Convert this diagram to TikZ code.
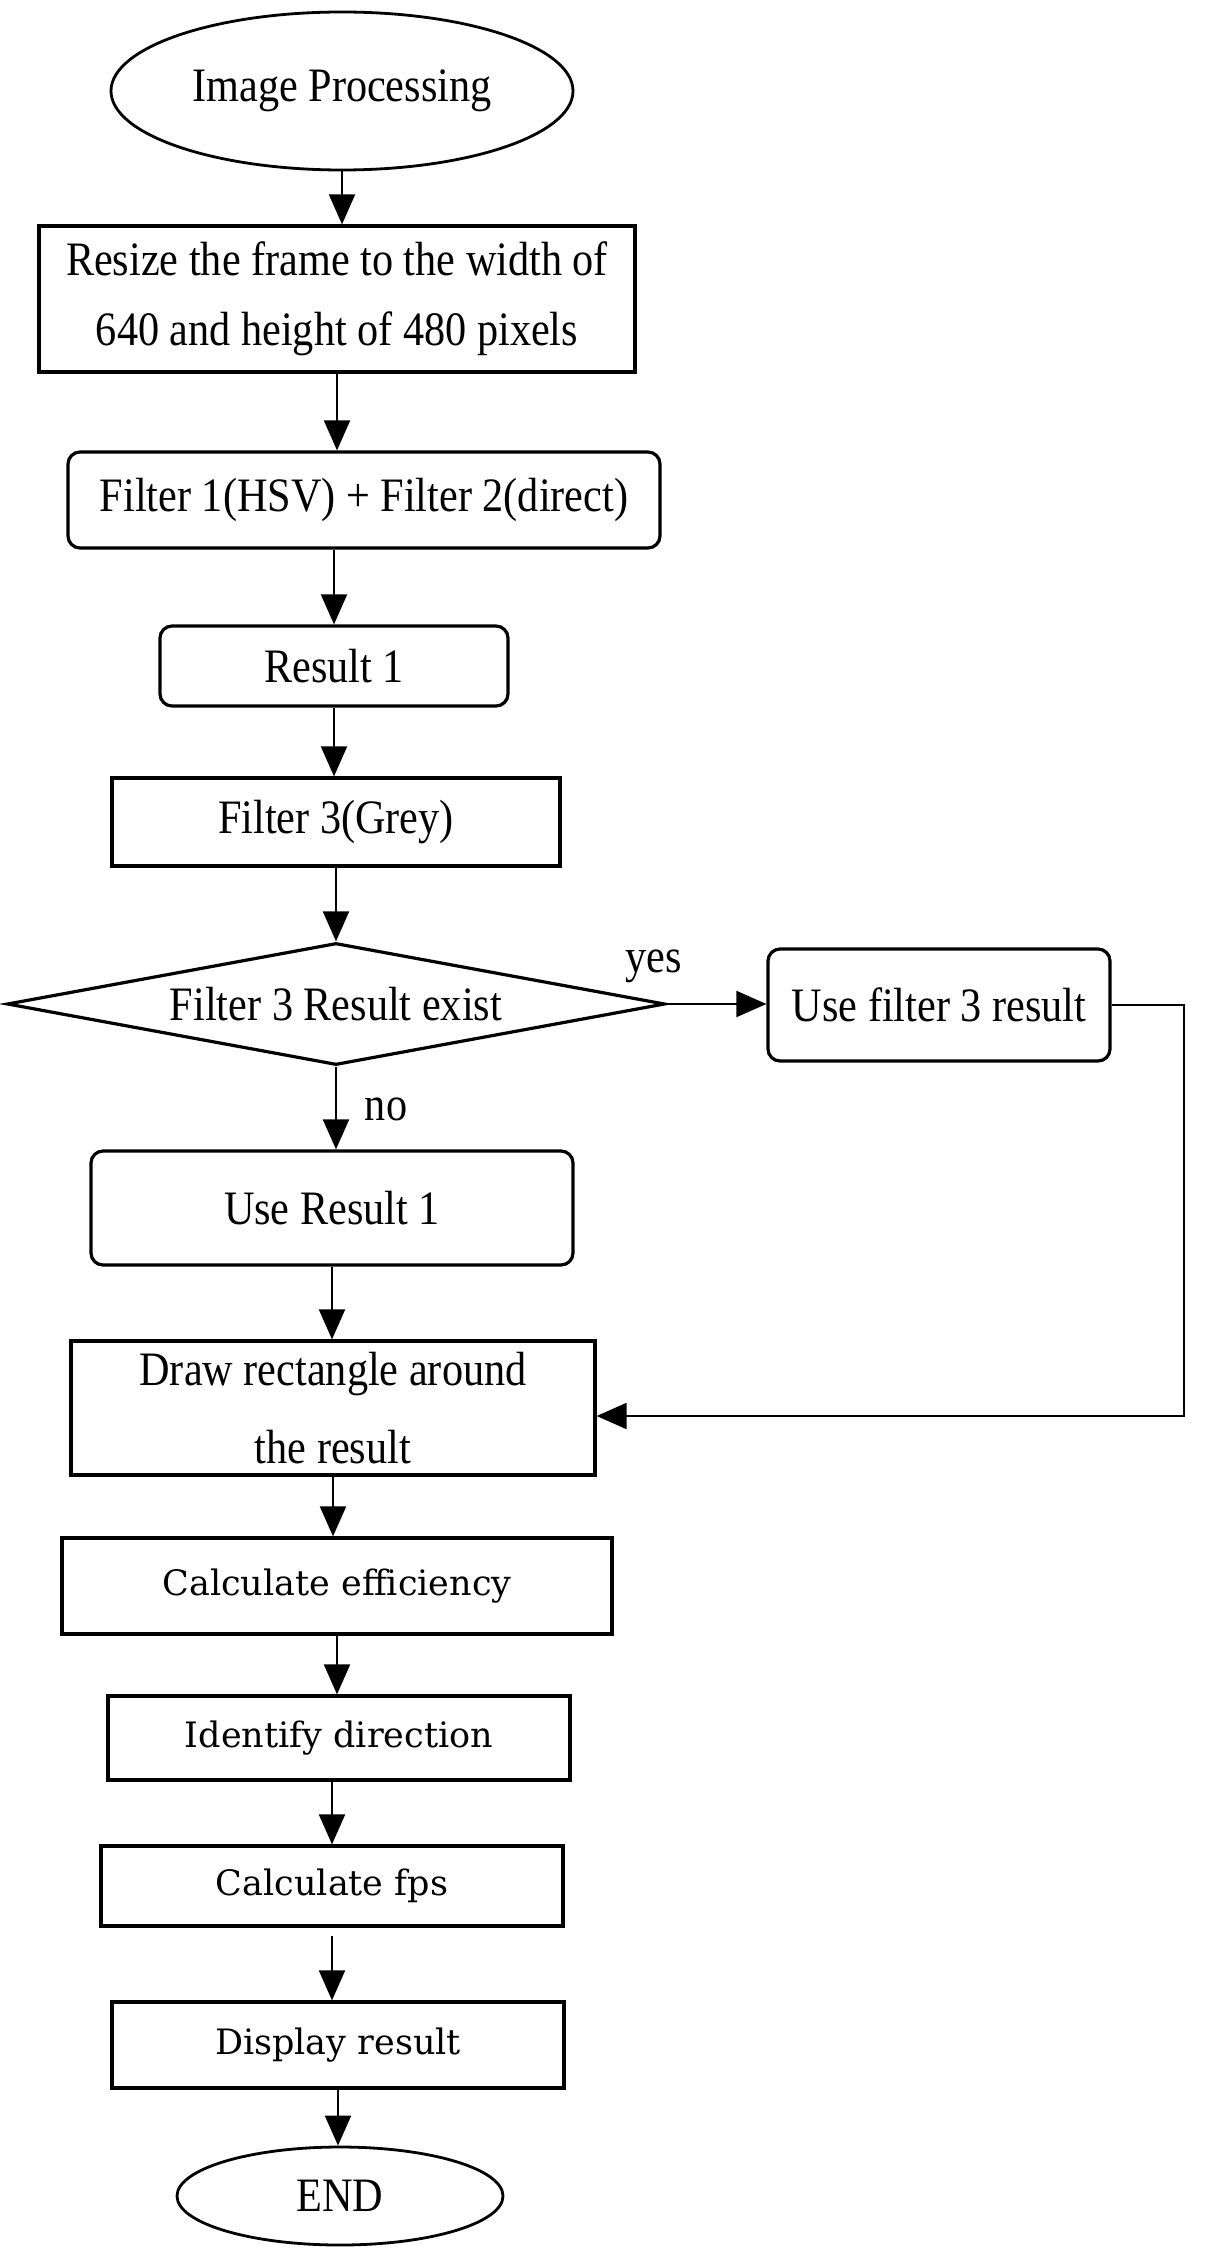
\documentclass[tikz,border=0pt]{standalone}
\usepackage{fontspec}
\setmainfont[FakeStretch=0.88]{Liberation Serif}
\newfontfamily\boxfont{DejaVu Serif}
\usetikzlibrary{shapes.geometric,arrows.meta}

\begin{document}
\begin{tikzpicture}[x=0.5pt, y=-0.5pt,
        every node/.style={font=\fontsize{24}{35}\selectfont, inner sep=0pt, align=center},
        box/.style={draw, line width=1.6pt, rectangle},
        roundbox/.style={box, rounded corners=6pt},
        oval/.style={draw, line width=1.4pt, ellipse},
        late/.style={box, font=\boxfont\fontsize{17.5}{20}\selectfont},
        flow/.style={line width=1pt, -{Triangle[width=13pt, length=15pt]}}]
    \useasboundingbox (0,0) rectangle (1204,2257);

    % Main column
    \node[oval, minimum width=231pt, minimum height=79pt] (start) at (342,91) {Image Processing};
    \node[box, minimum width=298pt, minimum height=73pt] (resize) at (337,299) {Resize the frame to the width of\\640 and height of 480 pixels};
    \node[roundbox, minimum width=296pt, minimum height=48pt] (filt12) at (364,500) {Filter 1(HSV) + Filter 2(direct)};
    \node[roundbox, minimum width=174pt, minimum height=40pt] (res1) at (334,666) {Result 1};
    \node[box, minimum width=224pt, minimum height=44pt] (filt3) at (336,822) {Filter 3(Grey)};
    \node[draw, diamond, aspect=5.3, line width=1.6pt, minimum width=329pt, minimum height=61pt] (cond) at (336,1004) {Filter 3 Result exist};
    \node[roundbox, minimum width=171pt, minimum height=56pt] (usef3) at (939,1005) {Use filter 3 result};
    \node[roundbox, minimum width=241pt, minimum height=57pt] (useres1) at (332,1208) {Use Result 1};
    \node[box, minimum width=262pt, minimum height=67pt] (drawrect) at (333,1408) {Draw rectangle around\\[4pt]the result};
    \node[late, minimum width=275pt, minimum height=48pt] (calceff) at (337,1586) {Calculate efficiency};
    \node[late, minimum width=231pt, minimum height=42pt] (ident) at (339,1738) {Identify direction};
    \node[late, minimum width=231pt, minimum height=40pt] (fps) at (332,1886) {Calculate fps};
    \node[late, minimum width=226pt, minimum height=43pt] (disp) at (338,2045) {Display result};
    \node[oval, minimum width=163pt, minimum height=49pt] (stop) at (340,2196) {END};

    % Branch labels
    \node (yes) at (654,966) {yes};
    \node (no) at (386,1109) {no};

    % Connectors
    \draw[flow] (start.south) -- (start.south |- resize.north);
    \draw[flow] (resize.south) -- (resize.south |- filt12.north);
    \draw[flow] (res1.north |- filt12.south) -- (res1.north);
    \draw[flow] (res1.south) -- (res1.south |- filt3.north);
    \draw[flow] (filt3.south) -- (filt3.south |- cond.north);
    \draw[flow] (cond.east) -- (cond.east -| usef3.west);
    \draw[flow] (cond.south) -- (cond.south |- useres1.north);
    \draw[flow] (useres1.south) -- (useres1.south |- drawrect.north);
    \draw[flow] (drawrect.south) -- (drawrect.south |- calceff.north);
    \draw[flow] (calceff.south) -- (calceff.south |- ident.north);
    \draw[flow] (fps.north |- ident.south) -- (fps.north);
    \draw[flow] ([yshift=-4pt]fps.south) -- (fps.south |- disp.north);
    \draw[flow] (disp.south) -- (disp.south |- stop.north);

    % Loop back from the yes branch
    \coordinate (back) at (1184,1416);
    \draw[flow] (usef3.east) -| (back) -- (drawrect.east |- back);
\end{tikzpicture}
\end{document}
